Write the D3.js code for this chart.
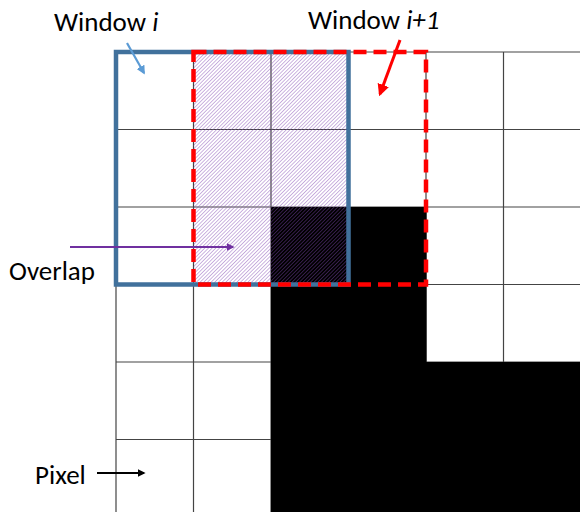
<!DOCTYPE html>
<html><head><meta charset="utf-8">
<script src="https://cdn.jsdelivr.net/npm/d3@7"></script>
<style>body{margin:0;background:#fff}svg{display:block}</style>
</head><body>
<script>
// grid of pixels (column / row indices)
const cols = [0,1,2,3,4,5];
const rows = [0,1,2,3,4,5];
// black pixel cells [col,row]
const blackCells = [[2,2],[3,2],[2,3],[3,3],[2,4],[3,4],[4,4],[5,4],[2,5],[3,5],[4,5],[5,5]];
// windows: [col0,row0,col1,row1]
const windowI = [0,0,3,3];
const windowI1 = [1,0,4,3];
const overlap = [1,0,3,3];
// labels
const labels = ["Window ", "i", "Window ", "i+1", "Overlap", "Pixel"];

const W = 580, H = 512;
const svg = d3.select("body").append("svg").attr("width", W).attr("height", H);
const x = d3.scaleLinear().domain([0, 6]).range([116, 581]);
const y = d3.scaleLinear().domain([0, 6]).range([52, 517]);

const defs = svg.append("defs");
const pat = defs.append("pattern").attr("id","hatch").attr("patternUnits","userSpaceOnUse")
  .attr("width",2.6).attr("height",2.6).attr("patternTransform","rotate(45)");
pat.append("line").attr("x1",0).attr("y1",0).attr("x2",0).attr("y2",2.6)
  .attr("stroke","#8045b0").attr("stroke-width",1.2).attr("stroke-opacity",0.68);

function mk(id,color){
  defs.append("marker").attr("id",id).attr("viewBox","0 0 10 10").attr("refX",8).attr("refY",5)
   .attr("markerWidth",4).attr("markerHeight",4).attr("orient","auto")
   .append("path").attr("d","M0,0 L10,5 L0,10 Z").attr("fill",color);
}
mk("ab","#5b9bd5"); mk("ar","#ff0000"); mk("ap","#7030a0"); mk("ak","#000");

// grid lines
const g = svg.append("g").attr("stroke","#444").attr("stroke-width",1.2);
g.selectAll(".v").data(cols.concat([6])).join("line").attr("x1",d=>x(d)).attr("x2",d=>x(d)).attr("y1",y(0)).attr("y2",H);
g.selectAll(".h").data(rows.concat([6])).join("line").attr("y1",d=>y(d)).attr("y2",d=>y(d)).attr("x1",x(0)).attr("x2",W);

// black pixels
svg.append("g").selectAll("rect").data(blackCells).join("rect")
  .attr("x",d=>x(d[0])).attr("y",d=>y(d[1])).attr("width",x(1)-x(0)+0.5).attr("height",y(1)-y(0)+0.5).attr("fill","#000");

// overlap hatch
svg.append("rect").attr("x",x(overlap[0])).attr("y",y(overlap[1]))
  .attr("width",x(overlap[2])-x(overlap[0])).attr("height",y(overlap[3])-y(overlap[1])).attr("fill","url(#hatch)");

// windows
svg.append("rect").attr("x",x(windowI[0])).attr("y",y(windowI[1]))
  .attr("width",x(windowI[2])-x(windowI[0])).attr("height",y(windowI[3])-y(windowI[1]))
  .attr("fill","none").attr("stroke","#41719c").attr("stroke-width",4.5);
svg.append("rect").attr("x",x(windowI1[0])).attr("y",y(windowI1[1]))
  .attr("width",x(windowI1[2])-x(windowI1[0])).attr("height",y(windowI1[3])-y(windowI1[1]))
  .attr("fill","none").attr("stroke","#ff0000").attr("stroke-width",4.5).attr("stroke-dasharray","13,7");

// arrows
const arrows = [
  {p:[127,43,144,73], c:"#5b9bd5", m:"ab", w:2.2},
  {p:[400,40,380,94], c:"#ff0000", m:"ar", w:3},
  {p:[70,247,233,247], c:"#7030a0", m:"ap", w:2},
  {p:[97,473,144,473], c:"#000", m:"ak", w:2}
];
svg.append("g").selectAll("line").data(arrows).join("line")
  .attr("x1",d=>d.p[0]).attr("y1",d=>d.p[1]).attr("x2",d=>d.p[2]).attr("y2",d=>d.p[3])
  .attr("stroke",d=>d.c).attr("stroke-width",d=>d.w).attr("marker-end",d=>`url(#${d.m})`);

// labels
const font = "Carlito, Lato, 'Open Sans', sans-serif";
function lab(xp, yp, parts){
  const t = svg.append("text").attr("x",xp).attr("y",yp).attr("font-family",font).attr("font-size",27).attr("fill","#000");
  parts.forEach(p=>t.append("tspan").text(p[0]).attr("font-style",p[1]?"italic":"normal"));
}
lab(54, 31, [[labels[0],false],[labels[1],true]]);
lab(308, 29, [[labels[2],false],[labels[3],true]]);
lab(9, 280, [[labels[4],false]]);
lab(35, 484, [[labels[5],false]]);
</script>
</body></html>
